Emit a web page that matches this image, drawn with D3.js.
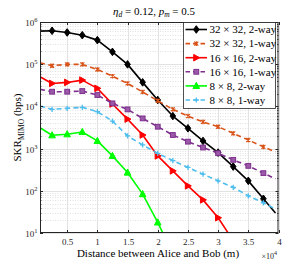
<!DOCTYPE html>
<html><head><meta charset="utf-8">
<script src="https://d3js.org/d3.v7.min.js"></script>
<style>body{margin:0;background:#fff;}svg{display:block;font-family:"Liberation Serif","Times New Roman",serif;}</style>
</head><body>
<svg id="c" width="307" height="262"></svg>
<script>
const distances = [500, 2500, 5000, 7500, 10000, 12500, 15000, 17500, 20000, 22500, 25000, 27500, 30000, 32500, 35000, 37500, 39500];
const black32_2way = [6.07e5, 6.2e5, 5.65e5, 4.87e5, 3.72e5, 1.96e5, 9.9e4, 3.71e4, 1.42e4, 5.9e3, 3.03e3, 1.52e3, 804, 375, 172, 64.7, 29.7];
const orange32_1way = [1.08e5, 9.2e4, 9.9e4, 9.9e4, 7.5e4, 5.2e4, 3.5e4, 2.2e4, 1.36e4, 8.5e3, 5.9e3, 4.3e3, 3.3e3, 2.3e3, 1.6e3, 1.1e3, 836];
const red16_2way = [5.04e4, 3.5e4, 3.7e4, 4.2e4, 2.68e4, 1.14e4, 5.0e3, 2.1e3, 671, 297, 131, 61, 23, 6.6, null, null, null];
const purple16_1way = [2.54e4, 2.23e4, 2.23e4, 2.31e4, 1.86e4, 1.18e4, 8.5e3, 5.2e3, 3.3e3, 2.1e3, 1.46e3, 1.06e3, 778, 541, 390, 262, 192];
const green8_2way = [3.13e3, 2.07e3, 2.19e3, 2.48e3, 1.52e3, 671, 271, 83.5, 17.8, 3.2, null, null, null, null, null, null, null];
const blue8_1way = [1.02e4, 8.5e3, 9.0e3, 9.5e3, 7.5e3, 4.5e3, 2.0e3, 1.22e3, 771, 520, 359, 248, 172, 121, 76, 52, 36.9];
const seriesNames = ["32 × 32, 2-way", "32 × 32, 1-way", "16 × 16, 2-way", "16 × 16, 1-way", "8 × 8, 2-way", "8 × 8, 1-way"];
const xTicks = [5000, 10000, 15000, 20000, 25000, 30000, 35000, 40000];
const xTickLabels = ["0.5", "1", "1.5", "2", "2.5", "3", "3.5", "4"];
const yTickExps = [1, 2, 3, 4, 5, 6];

const series = [
  {name: seriesNames[0], values: black32_2way, color: "#000000", dash: null, marker: "diamond"},
  {name: seriesNames[1], values: orange32_1way, color: "#D95319", dash: "5,3.5", marker: "x"},
  {name: seriesNames[2], values: red16_2way, color: "#FF0000", dash: null, marker: "tri-right"},
  {name: seriesNames[3], values: purple16_1way, color: "#7E2F8E", dash: "5,3.5", marker: "square"},
  {name: seriesNames[4], values: green8_2way, color: "#00FF00", dash: null, marker: "tri-up"},
  {name: seriesNames[5], values: blue8_1way, color: "#4DBEEE", dash: "5,3.5", marker: "plus"}
];

const L = 40, R = 278.5, T = 22, B = 233;
const svg = d3.select("#c");
const x = d3.scaleLinear().domain([500, 40000]).range([L, R]);
const y = d3.scaleLog().domain([10, 1e6]).range([B, T]);

// grid
const g = svg.append("g");
const minorVals = [];
for (let e = 1; e < 6; e++) for (let k = 2; k <= 9; k++) minorVals.push(k * Math.pow(10, e));
g.selectAll(".ymin").data(minorVals).enter().append("line")
  .attr("x1", L).attr("x2", R).attr("y1", d => Math.round(y(d)) + 0.5).attr("y2", d => Math.round(y(d)) + 0.5)
  .attr("stroke", "#cfcfcf").attr("stroke-width", 0.6).attr("stroke-dasharray", "1,1.5");
g.selectAll(".ymaj").data(yTickExps).enter().append("line")
  .attr("x1", L).attr("x2", R).attr("y1", d => Math.round(y(Math.pow(10, d))) + 0.5).attr("y2", d => Math.round(y(Math.pow(10, d))) + 0.5)
  .attr("stroke", "#e2e2e2").attr("stroke-width", 1);
g.selectAll(".xmaj").data(xTicks).enter().append("line")
  .attr("x1", d => Math.round(x(d)) + 0.5).attr("x2", d => Math.round(x(d)) + 0.5).attr("y1", T).attr("y2", B)
  .attr("stroke", "#e2e2e2").attr("stroke-width", 1);

// clip
svg.append("clipPath").attr("id", "clip").append("rect").attr("x", L).attr("y", T).attr("width", R - L).attr("height", B - T);

function drawMarker(sel, type, color, cx, cy) {
  const s = 2.4;
  if (type === "diamond") {
    sel.append("path").attr("d", `M${cx},${cy - 3.8}L${cx + 2.8},${cy}L${cx},${cy + 3.8}L${cx - 2.8},${cy}Z`)
      .attr("fill", color).attr("stroke", color).attr("stroke-width", 1);
  } else if (type === "x") {
    sel.append("path").attr("d", `M${cx - 2},${cy - 2}L${cx + 2},${cy + 2}M${cx - 2},${cy + 2}L${cx + 2},${cy - 2}M${cx},${cy - 2.3}L${cx},${cy + 2.3}`)
      .attr("stroke", color).attr("stroke-width", 1.2).attr("fill", "none");
  } else if (type === "tri-right") {
    sel.append("path").attr("d", `M${cx + 3.4},${cy}L${cx - 2.6},${cy - 3.3}L${cx - 2.6},${cy + 3.3}Z`)
      .attr("fill", color).attr("stroke", color).attr("stroke-width", 1);
  } else if (type === "square") {
    sel.append("rect").attr("x", cx - s).attr("y", cy - s).attr("width", 2 * s).attr("height", 2 * s)
      .attr("fill", "#9a5aa8").attr("stroke", color).attr("stroke-width", 1);
  } else if (type === "tri-up") {
    sel.append("path").attr("d", `M${cx},${cy - 3.6}L${cx + 3.3},${cy + 2.6}L${cx - 3.3},${cy + 2.6}Z`)
      .attr("fill", color).attr("stroke", color).attr("stroke-width", 1);
  } else if (type === "plus") {
    sel.append("path").attr("d", `M${cx - 2.6},${cy}L${cx + 2.6},${cy}M${cx},${cy - 2.6}L${cx},${cy + 2.6}`)
      .attr("stroke", color).attr("stroke-width", 1.3).attr("fill", "none");
  }
}

const plot = svg.append("g").attr("clip-path", "url(#clip)");
const line = d3.line().defined(d => d.v != null).x(d => x(d.d)).y(d => y(d.v));
series.forEach(s => {
  const pts = distances.map((d, i) => ({d: d, v: s.values[i]}));
  plot.append("path").datum(pts).attr("d", line).attr("fill", "none")
    .attr("stroke", s.color).attr("stroke-width", 1.6).attr("stroke-dasharray", s.dash)
    .attr("stroke-linejoin", "round");
  pts.forEach(p => {
    if (p.v != null && p.d % 2500 === 0) drawMarker(plot, s.marker, s.color, x(p.d), y(p.v));
  });
});

// axes box
const ax = svg.append("g");
ax.append("rect").attr("x", L + 0.5).attr("y", T + 0.5).attr("width", R - L - 1).attr("height", B - T - 1)
  .attr("fill", "none").attr("stroke", "#262626").attr("stroke-width", 1);
minorVals.forEach(v => {
  const yy = Math.round(y(v)) + 0.5;
  ax.append("line").attr("x1", L).attr("x2", L + 1.5).attr("y1", yy).attr("y2", yy).attr("stroke", "#262626").attr("stroke-width", 0.8);
  ax.append("line").attr("x1", R).attr("x2", R - 1.5).attr("y1", yy).attr("y2", yy).attr("stroke", "#262626").attr("stroke-width", 0.8);
});
yTickExps.forEach(e => {
  const yy = Math.round(y(Math.pow(10, e))) + 0.5;
  ax.append("line").attr("x1", L).attr("x2", L + 3).attr("y1", yy).attr("y2", yy).attr("stroke", "#262626");
  ax.append("line").attr("x1", R).attr("x2", R - 3).attr("y1", yy).attr("y2", yy).attr("stroke", "#262626");
  const t = ax.append("text").attr("x", 37.5).attr("y", yy + 3).attr("text-anchor", "end").attr("fill", "#262626").attr("font-size", 9);
  t.append("tspan").text("10");
  t.append("tspan").attr("dy", -4).attr("font-size", 6.5).text(e);
});
xTicks.forEach((d, i) => {
  const xx = Math.round(x(d)) + 0.5;
  ax.append("line").attr("x1", xx).attr("x2", xx).attr("y1", B).attr("y2", B - 3).attr("stroke", "#262626");
  ax.append("line").attr("x1", xx).attr("x2", xx).attr("y1", T).attr("y2", T + 3).attr("stroke", "#262626");
  ax.append("text").attr("x", xx).attr("y", 244.5).attr("text-anchor", "middle").attr("fill", "#262626").attr("font-size", 9).text(xTickLabels[i]);
});
const ex = ax.append("text").attr("x", 277).attr("y", 258.5).attr("text-anchor", "end").attr("fill", "#262626").attr("font-size", 8);
ex.append("tspan").text("×10");
ex.append("tspan").attr("dy", -3.5).attr("font-size", 6).text("4");

// labels
svg.append("text").attr("x", 158).attr("y", 256.5).attr("text-anchor", "middle").attr("font-size", 11).attr("fill", "#000")
  .text("Distance between Alice and Bob (m)");
const yl = svg.append("text").attr("transform", "translate(21,127.5) rotate(-90)").attr("text-anchor", "middle").attr("font-size", 11).attr("fill", "#000");
yl.append("tspan").text("SKR");
yl.append("tspan").attr("font-size", 7.5).attr("dy", 2.5).text("MIMO");
yl.append("tspan").attr("dy", -2.5).text(" (bps)");

const tt = svg.append("text").attr("x", 154).attr("y", 14.5).attr("text-anchor", "middle").attr("font-size", 11).attr("fill", "#000");
tt.append("tspan").attr("font-style", "italic").text("η");
tt.append("tspan").attr("font-style", "italic").attr("font-size", 7.5).attr("dy", 2).text("d");
tt.append("tspan").attr("dy", -2).text(" = 0.12, ");
tt.append("tspan").attr("font-style", "italic").text("p");
tt.append("tspan").attr("font-style", "italic").attr("font-size", 7.5).attr("dy", 2).text("m");
tt.append("tspan").attr("dy", -2).text(" = 0.5");

// legend
const lg = svg.append("g");
lg.append("rect").attr("x", 183.5).attr("y", 22.5).attr("width", 92).attr("height", 86)
  .attr("fill", "#fff").attr("stroke", "#262626").attr("stroke-width", 0.8);
series.forEach((s, i) => {
  const yy = 29.5 + i * 14.1;
  lg.append("line").attr("x1", 185.5).attr("x2", 207).attr("y1", yy).attr("y2", yy)
    .attr("stroke", s.color).attr("stroke-width", 1.6).attr("stroke-dasharray", s.dash ? "4.5,3" : null);
  drawMarker(lg, s.marker, s.color, 196.3, yy);
  lg.append("text").attr("x", 209.5).attr("y", yy + 3.8).attr("font-size", 11).attr("fill", "#000").text(s.name);
});
</script>
</body></html>
